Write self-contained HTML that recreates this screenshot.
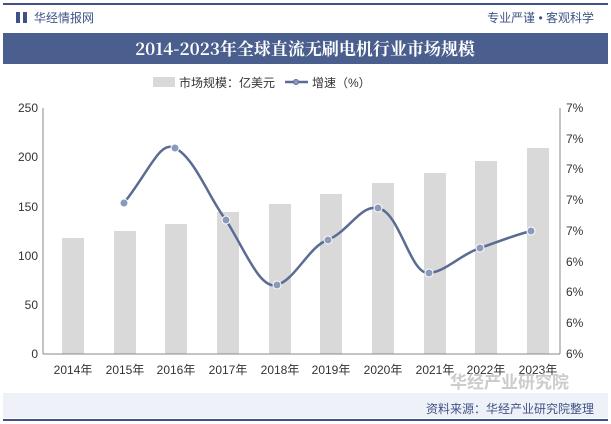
<!DOCTYPE html>
<html><head><meta charset="utf-8"><style>
body{margin:0;width:611px;height:424px;background:#fff;font-family:"Liberation Sans","Noto Sans CJK SC",sans-serif;overflow:hidden;position:relative}
</style></head><body>
<svg width="611" height="424" xmlns="http://www.w3.org/2000/svg" style="position:absolute;left:0;top:0;font-family:'Liberation Sans','Noto Sans CJK SC',sans-serif">
<rect x="3" y="3" width="605" height="2" fill="#3f5287"/>
<rect x="16" y="12" width="4" height="11" fill="#3f5287"/><rect x="23" y="12" width="4" height="11" fill="#3f5287"/>
<text x="34" y="22" font-size="12" fill="#3f5287">华经情报网</text>
<text x="594" y="22" font-size="12" fill="#3f5287" text-anchor="end">专业严谨 • 客观科学</text>
<rect x="3" y="33" width="605" height="31" fill="#4a5f8e"/>
<text x="305" y="55" font-size="17" font-weight="bold" fill="#fff" text-anchor="middle" font-family="'Noto Serif CJK SC',serif">2014-2023年全球直流无刷电机行业市场规模</text>
<rect x="153" y="77" width="22" height="10" fill="#d9d9d9"/>
<text x="179" y="87" font-size="12" fill="#333">市场规模：亿美元</text>
<line x1="285" y1="82" x2="308" y2="82" stroke="#5b6b93" stroke-width="2.5"/><circle cx="296" cy="82" r="2.5" fill="#8a9abb" stroke="#5b6b93"/>
<text x="312" y="87" font-size="12" fill="#333">增速（%）</text>
<g fill="#d9d9d9">
<rect x="62" y="238" width="22" height="116"/>
<rect x="114" y="231" width="22" height="123"/>
<rect x="165" y="224" width="22" height="130"/>
<rect x="217" y="212" width="22" height="142"/>
<rect x="269" y="204" width="22" height="150"/>
<rect x="320" y="194" width="22" height="160"/>
<rect x="372" y="183" width="22" height="171"/>
<rect x="424" y="173" width="22" height="181"/>
<rect x="475" y="161" width="22" height="193"/>
<rect x="527" y="148" width="22" height="206"/>
</g>
<g stroke="#888" stroke-width="1"><line x1="43" y1="108" x2="43" y2="354"/><line x1="560" y1="108" x2="560" y2="354"/><line x1="43" y1="354" x2="560" y2="354"/></g>
<g font-size="12" fill="#333" text-anchor="end">
<text x="38" y="112">250</text><text x="38" y="161">200</text><text x="38" y="211">150</text><text x="38" y="260">100</text><text x="38" y="309">50</text><text x="38" y="358">0</text></g>
<g font-size="12" fill="#333">
<text x="566" y="112">7%</text><text x="566" y="143">7%</text><text x="566" y="173">7%</text><text x="566" y="204">7%</text><text x="566" y="235">7%</text><text x="566" y="266">6%</text><text x="566" y="296">6%</text><text x="566" y="327">6%</text><text x="566" y="358">6%</text></g>
<g font-size="12" fill="#333" text-anchor="middle">
<text x="73" y="374">2014年</text><text x="125" y="374">2015年</text><text x="176" y="374">2016年</text><text x="228" y="374">2017年</text><text x="280" y="374">2018年</text><text x="331" y="374">2019年</text><text x="383" y="374">2020年</text><text x="435" y="374">2021年</text><text x="486" y="374">2022年</text><text x="538" y="374">2023年</text></g>
<path d="M124,203 C150,170 160,140 175,148 C195,158 210,200 226,220 C245,250 260,290 277,285 C295,280 310,245 328,240 C350,230 360,205 378,208 C400,212 410,275 429,273 C445,272 460,255 480,248 C500,241 515,235 531,231" fill="none" stroke="#5b6b93" stroke-width="2.5"/>
<g fill="#8a9abb" stroke="#fff" stroke-width="1">
<circle cx="124" cy="203" r="4"/><circle cx="175" cy="148" r="4"/><circle cx="226" cy="220" r="4"/><circle cx="277" cy="285" r="4"/><circle cx="328" cy="240" r="4"/><circle cx="378" cy="208" r="4"/><circle cx="429" cy="273" r="4"/><circle cx="480" cy="248" r="4"/><circle cx="531" cy="231" r="4"/></g>
<rect x="3" y="393" width="605" height="25" fill="#eef1f7"/>
<text x="450" y="388" font-size="17" fill="#ccc" font-weight="bold">华经产业研究院</text>
<text x="594" y="413" font-size="12" fill="#3f5287" text-anchor="end">资料来源：华经产业研究院整理</text>
<rect x="3" y="419" width="605" height="2" fill="#3f5287"/>
</svg>
</body></html>
